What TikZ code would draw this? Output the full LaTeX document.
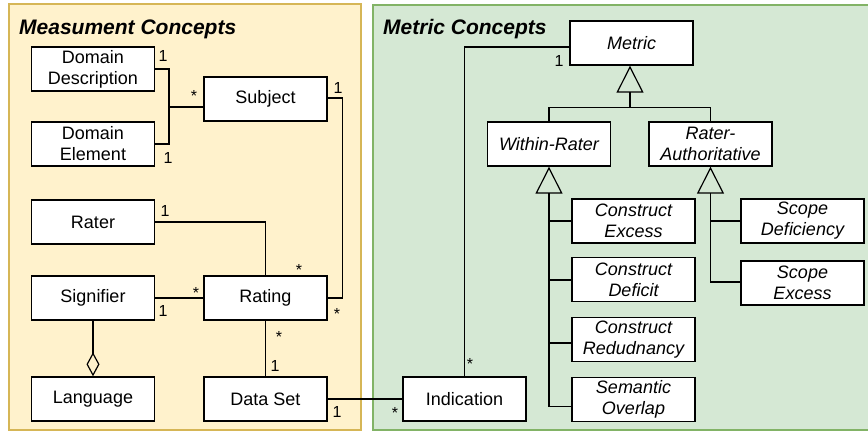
\documentclass[tikz,border=0pt]{standalone}
\usepackage{fontspec}
\setmainfont{Liberation Sans}
\usetikzlibrary{arrows.meta,calc}

\definecolor{measfill}{HTML}{FFF2CC}
\definecolor{measline}{HTML}{D6B656}
\definecolor{metrfill}{HTML}{D5E8D4}
\definecolor{metrline}{HTML}{82B366}

\tikzset{
  panel/.style={line width=1.5pt},
  cls/.style={draw=black, fill=white, line width=1.4pt, minimum width=123pt,
    minimum height=44pt, inner sep=0pt, align=center,
    font=\fontsize{18}{21}\selectfont},
  acls/.style={cls, font=\fontsize{18}{21}\selectfont\itshape},
  conn/.style={line width=1.2pt, draw=black},
  gen/.style={conn, -{Triangle[open, length=27pt, width=27pt, line width=1.2pt]}},
  agg/.style={conn, -{Diamond[open, length=24pt, width=13pt, line width=1.2pt]}},
  mult/.style={anchor=base, inner sep=0pt, font=\fontsize{16}{16}\selectfont},
  ttl/.style={anchor=base west, inner sep=0pt,
    font=\fontsize{21}{21}\selectfont\bfseries\itshape}
}

\begin{document}
\begin{tikzpicture}[x=1pt, y=1pt]
\useasboundingbox (0,0) rectangle (868,-435);

% package backgrounds
\draw[panel, fill=measfill, draw=measline] (9,-4) rectangle (361,-430);
\draw[panel, fill=metrfill, draw=metrline] (373,-5) rectangle (874,-430);
\node[ttl] (tmeas) at (19,-35) {Measument Concepts};
\node[ttl] (tmetr) at (383,-35) {Metric Concepts};

% measurement classes
\node[cls] (dd) at (93,-69) {Domain\\Description};
\node[cls] (de) at (93,-144) {Domain\\Element};
\node[cls] (subj) at (265.5,-99) {Subject};
\node[cls] (rater) at (93,-222) {Rater};
\node[cls] (sig) at (93,-298) {Signifier};
\node[cls] (rating) at (265.5,-298) {Rating};
\node[cls] (lang) at (93,-399) {Language};
\node[cls] (data) at (265.5,-399) {Data Set};

% metric classes
\node[cls] (ind) at (464.5,-399) {Indication};
\node[acls] (metric) at (631.5,-43) {Metric};
\node[acls] (wr) at (549,-144) {Within-Rater};
\node[acls] (ra) at (710.5,-144) {Rater-\\Authoritative};
\node[acls] (ce) at (633.5,-221) {Construct\\Excess};
\node[acls] (cd) at (633.5,-279.5) {Construct\\Deficit};
\node[acls] (cr) at (633.5,-339.5) {Construct\\Redudnancy};
\node[acls] (so) at (633.5,-399.5) {Semantic\\Overlap};
\node[acls] (sd) at (802.5,-221) {Scope\\Deficiency};
\node[acls] (se) at (802.5,-283) {Scope\\Excess};

% associations
\coordinate (dj) at (169,-107);
\draw[conn] (dd.east) -| (dj) |- (de.east);
\draw[conn] (dj) -- (dj -| subj.west);
\draw[conn] ([yshift=1pt]subj.east) -- ++(15,0) |- (rating.east);
\draw[conn] (rater.east) -| (rating.north);
\draw[conn] (sig.east) -- (rating.west);
\draw[agg] (sig.south) -- (lang.north);
\draw[conn] (rating.south) -- (data.north);
\draw[conn] (data.east) -- (ind.west);
\draw[conn] (ind.north) |- ([yshift=-4pt]metric.west);

% generalisations
\coordinate (mj) at ($(metric.south)+(-1.5,-42)$);
\draw[conn] (wr.north) |- (mj) -| (ra.north);
\draw[gen] (mj) -- (mj |- metric.south);
\draw[gen] ([yshift=-7pt]so.west) -| (wr.south);
\draw[conn] (ce.west) -- (ce.west -| wr.south);
\draw[conn] ([yshift=-0.5pt]cd.west) -- ([yshift=-0.5pt]cd.west -| wr.south);
\draw[conn] ([yshift=-3.5pt]cr.west) -- ([yshift=-3.5pt]cr.west -| wr.south);
\draw[gen] ([yshift=1pt]se.west) -| (ra.south);
\draw[conn] (sd.west) -- (sd.west -| ra.south);

% multiplicities
\node[mult] (m1) at (163,-62) {1};
\node[mult] (m2) at (194,-102) {*};
\node[mult] (m3) at (168,-164) {1};
\node[mult] (m4) at (338,-94) {1};
\node[mult] (m5) at (337,-320) {*};
\node[mult] (m6) at (299,-276) {*};
\node[mult] (m7) at (279,-343) {*};
\node[mult] (m8) at (275,-372) {1};
\node[mult] (m9) at (165,-217) {1};
\node[mult] (m10) at (196,-299) {*};
\node[mult] (m11) at (163,-317) {1};
\node[mult] (m12) at (337,-418) {1};
\node[mult] (m13) at (395,-419) {*};
\node[mult] (m14) at (470,-370) {*};
\node[mult] (m15) at (559,-67) {1};
\end{tikzpicture}
\end{document}
